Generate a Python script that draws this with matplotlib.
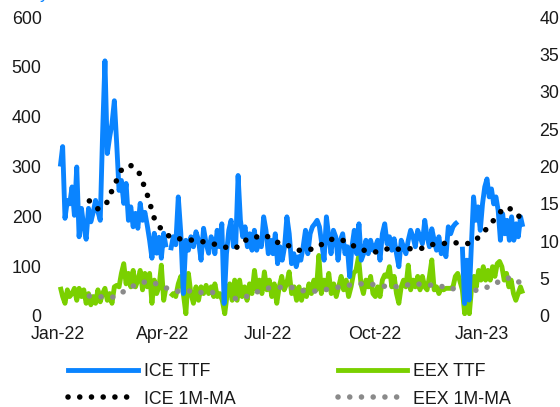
import matplotlib
matplotlib.use("Agg")
import matplotlib.pyplot as plt
import pandas as pd
import numpy as np
from matplotlib.lines import Line2D

plt.rcParams['font.family'] = ['Liberation Sans', 'DejaVu Sans']

# ---------------- data ----------------
# ICE TTF (left axis), segments separated by gaps in the series
ice_r1 = [300, 340, 196, 232, 225, 259, 202, 299, 159, 216, 179, 154, 216, 189, 208, 232,
          210, 192, 366, 512, 326, 359, 386, 432, 346, 252, 272, 226, 266, 192, 219, 179,
          206, 176, 226, 192, 208, 182, 152, 116, 166, 126, 158, 116, 166, 138]
ice_r2 = [132, 159, 143, 239, 166, 45, 152, 132, 159, 139, 169, 152, 112, 176, 146, 126, 159, 146]
ice_r3 = [125, 172, 139, 185, 25, 125, 172, 192, 139, 145, 282, 192, 159, 179, 139, 165,
          132, 172, 132, 152, 139, 199, 172, 125, 152, 125, 165, 105, 139, 112, 139, 199,
          165, 105, 125, 99, 119, 112, 139, 172, 125, 165, 179, 185, 192, 179, 145, 112,
          199, 159, 125, 172, 159, 112, 152, 165, 125, 139, 79, 139, 172, 125, 185, 112,
          125, 152]
ice_r4 = [125, 152, 132, 139, 152, 112, 165, 185, 145, 159, 132, 155, 125, 99, 152, 139,
          125, 152, 172, 159, 139, 172, 159, 145, 192, 159, 139, 175, 152, 132, 159, 125,
          139, 119, 179, 165, 179, 185, 189]
ice_r5 = [139, 25, 112, 32, 139, 239, 192, 219, 172, 225, 259, 275, 239, 255, 225, 239,
          212, 152, 205, 165, 192, 152, 199, 152, 185, 159, 199, 179]

# EEX TTF (right axis)
eex_r1 = [3.9, 2.6, 1.7, 3.5, 2.6, 3.0, 3.7, 2.1, 3.7, 2.6, 3.5, 1.7, 3.0, 1.5, 2.6, 1.7,
          3.5, 1.9, 3.0, 3.7, 2.1, 3.0, 1.7, 3.9, 4.1, 3.9, 5.7, 7.0, 4.3, 5.7, 3.9, 6.1,
          3.9, 4.8, 6.1, 3.5, 5.7, 3.9, 5.7, 1.7, 4.8, 3.0, 3.9, 6.8, 2.1, 3.9]
eex_r2 = [2.6, 3.0, 2.6, 4.3, 5.3, 3.0, 0.3, 5.7, 3.0, 1.7, 3.9, 2.1, 3.9, 3.0, 4.1, 3.0, 3.9, 2.6]
eex_r3 = [4.3, 2.6, 3.0, 2.1, 0.3, 3.0, 4.3, 2.1, 4.8, 2.1, 4.8, 2.6, 3.9, 2.1, 4.3, 3.0,
          6.1, 3.5, 4.8, 3.0, 5.9, 3.5, 4.8, 2.6, 4.3, 1.7, 3.9, 5.3, 3.5, 4.3, 5.9, 3.0,
          3.9, 2.1, 3.9, 2.1, 3.5, 2.6, 4.3, 3.0, 4.8, 3.5, 8.1, 3.0, 4.8, 3.5, 5.7, 3.0,
          4.3, 2.6, 3.9, 5.3, 3.5, 4.8, 2.6, 3.9, 5.7, 6.1, 7.9, 4.3, 3.0, 4.8]
eex_r4 = [3.9, 5.3, 3.0, 2.6, 3.9, 2.6, 4.8, 5.5, 5.3, 6.6, 3.9, 5.3, 3.0, 1.7, 3.9, 4.8,
          3.9, 6.8, 3.5, 4.8, 3.9, 5.3, 3.5, 5.3, 3.9, 3.5, 5.3, 7.5, 3.5, 3.9, 3.0, 3.7,
          3.5, 3.7, 3.7, 3.7, 3.9, 5.3, 5.7]
eex_r5 = [3.5, 0.3, 3.5, 0.3, 3.9, 5.3, 3.9, 6.1, 4.8, 6.6, 4.8, 6.1, 4.8, 6.6, 5.3, 7.0,
          7.3, 6.6, 4.8, 5.7, 3.9, 4.8, 3.0, 2.1, 3.0, 3.9, 3.0]

# date spans of each region
region_spans = [("2022-01-03", "2022-04-04"), ("2022-04-08", "2022-05-15"),
                ("2022-05-16", "2022-09-23"), ("2022-09-25", "2022-12-11"),
                ("2022-12-15", "2023-02-05")]

# 1-month moving averages (weekly readings)
ma_start = "2022-01-28"
ice_ma = [231, 215, 222, 260, 295, 303, 292, 250, 195, 170, 158, 155, 154, 151, 149, 146,
          141, 137, 136, 152, 153, 163, 159, 148, 146, 136, 131, 133, 137, 149, 155, 153,
          146, 135, 131, 128, 131, 137, 134, 135, 135, 136, 143, 145, 146, 147, 145, 146,
          160, 178, 198, 218, 214, 197]
eex_ma = [2.67, 2.6, 2.53, 2.53, 3.13, 3.8, 4.33, 4.6, 4.4, 3.93, 3.53, 3.27, 3.4, 3.2,
          3.13, 3.2, 2.87, 2.53, 2.33, 2.47, 2.93, 3.4, 3.73, 3.8, 3.87, 3.8, 3.4, 3.33,
          3.33, 3.53, 3.73, 3.93, 4.13, 4.27, 4.33, 4.2, 4.0, 3.93, 3.93, 4.13, 4.4, 4.13,
          4.13, 4.13, 3.6, 3.67, 3.47, 3.2, 3.67, 3.87, 4.4, 5.0, 5.13, 4.4]

left_ticks = [0, 100, 200, 300, 400, 500, 600]
right_ticks = [0, 5, 10, 15, 20, 25, 30, 35, 40]
x_ticks = ["2022-01-01", "2022-04-01", "2022-07-01", "2022-10-01", "2023-01-01"]
x_labels = ["Jan-22", "Apr-22", "Jul-22", "Oct-22", "Jan-23"]
legend_labels = ["ICE TTF", "ICE 1M-MA", "EEX TTF", "EEX 1M-MA"]

# ---------------- styling ----------------
BLUE = "#0A84FF"
GREEN = "#7AD000"
GREY = "#8A8A8A"
TXT = "#1a1a1a"
FS = 12.8
LW = 3.5


def span_dates(i, n):
    a, b = region_spans[i]
    return pd.date_range(a, b, periods=n)


fig = plt.figure(figsize=(5.6, 4.07), dpi=100)
ax = fig.add_axes([0.089, 0.2236, 0.857, 0.7346])
ax2 = ax.twinx()

# ICE lines: R1 | R2+R3+R4 | R5
ice_mid_dates = np.concatenate([span_dates(1, len(ice_r2)), span_dates(2, len(ice_r3)),
                                span_dates(3, len(ice_r4))])
ice_kw = dict(color=BLUE, lw=LW, solid_joinstyle="round", solid_capstyle="butt", zorder=3)
ax.plot(span_dates(0, len(ice_r1)), ice_r1, **ice_kw)
ax.plot(ice_mid_dates, ice_r2 + ice_r3 + ice_r4, **ice_kw)
ax.plot(span_dates(4, len(ice_r5)), ice_r5, **ice_kw)

# EEX lines: R1 | R2..R5
eex_mid_dates = np.concatenate([span_dates(1, len(eex_r2)), span_dates(2, len(eex_r3)),
                                span_dates(3, len(eex_r4)), span_dates(4, len(eex_r5))])
eex_kw = dict(color=GREEN, lw=LW, solid_joinstyle="round", solid_capstyle="butt", zorder=3)
ax2.plot(span_dates(0, len(eex_r1)), eex_r1, **eex_kw)
ax2.plot(eex_mid_dates, eex_r2 + eex_r3 + eex_r4 + eex_r5, **eex_kw)

ma_dates = pd.date_range(ma_start, periods=len(ice_ma), freq="7D")
dot_ls = (0, (0.01, 2.1))
ax.plot(ma_dates, ice_ma, color="black", lw=4, linestyle=dot_ls,
        dash_capstyle="round", zorder=5)
ax2.plot(ma_dates, eex_ma, color=GREY, lw=4, linestyle=dot_ls,
         dash_capstyle="round", zorder=5)

# axes
ax.set_xlim(pd.Timestamp("2021-12-25"), pd.Timestamp("2023-02-11"))
ax.set_ylim(0, 600)
ax2.set_ylim(0, 40)
ax.set_yticks(left_ticks)
ax2.set_yticks(right_ticks)
ax.set_xticks(pd.to_datetime(x_ticks))
ax.set_xticklabels(x_labels)
for a in (ax, ax2):
    for s in a.spines.values():
        s.set_visible(False)
    a.tick_params(length=0, labelsize=FS, labelcolor=TXT)
ax.tick_params(axis="y", pad=6)
ax.tick_params(axis="x", pad=7)
ax2.tick_params(axis="y", pad=7)
ax.set_zorder(ax2.get_zorder() + 1)
ax.patch.set_visible(False)

# legend
handles = [
    Line2D([], [], color=BLUE, lw=LW),
    Line2D([], [], color="black", lw=4, linestyle=dot_ls, dash_capstyle="round"),
    Line2D([], [], color=GREEN, lw=LW),
    Line2D([], [], color=GREY, lw=4, linestyle=dot_ls, dash_capstyle="round"),
]
fig.legend(handles, legend_labels, ncol=2, loc="upper left", bbox_to_anchor=(0.122, 0.108),
           frameon=False, fontsize=FS, handlelength=3.9, handletextpad=0.35,
           columnspacing=5.75, labelspacing=0.6, borderaxespad=0, borderpad=0,
           labelcolor=TXT)

# cut-off title fragment at top
fig.text(0.072, 1.004, "y", color=BLUE, fontsize=FS, va="baseline", ha="left")

fig.savefig("out.png", dpi=100)
